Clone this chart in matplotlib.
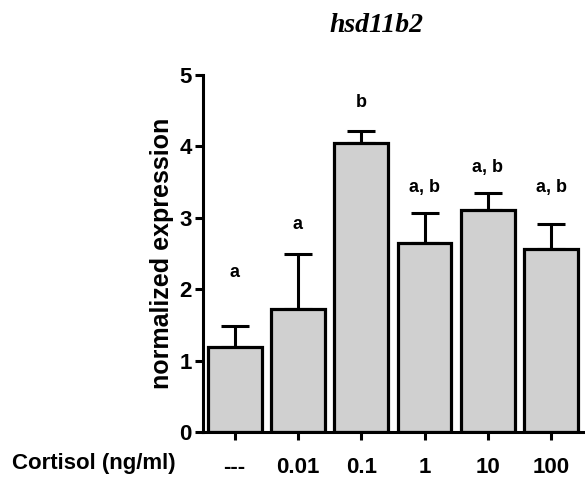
import matplotlib
matplotlib.use("Agg")
import matplotlib.pyplot as plt
import numpy as np

# data
doses = ["---", "0.01", "0.1", "1", "10", "100"]
means = [1.19, 1.72, 4.05, 2.65, 3.11, 2.56]
upper = [1.48, 2.50, 4.22, 3.07, 3.35, 2.91]
letters = ["a", "a", "b", "a, b", "a, b", "a, b"]
letter_y = [2.24, 2.91, 4.61, 3.43, 3.70, 3.43]

plt.rcParams['font.family'] = ['Liberation Sans', 'DejaVu Sans']

fig = plt.figure(figsize=(5.85, 4.78), dpi=100)
ax = fig.add_axes([0.347, 0.0962, 0.66, 0.7469])

x = np.arange(len(doses))
err = np.array(upper) - np.array(means)
ax.errorbar(x, means, yerr=[np.zeros(len(x)), err], fmt='none',
            ecolor='black', elinewidth=2.2, capsize=10, capthick=2.2, zorder=1)
ax.bar(x, means, width=0.85, color='#d0d0d0', edgecolor='black',
       linewidth=2.3, zorder=2)

for xi, lab, ly in zip(x, letters, letter_y):
    ax.text(xi, ly, lab, ha='center', va='center', fontsize=13,
            fontweight='bold')

ax.set_xlim(-0.5, 5.6)
ax.set_ylim(0, 5)
ax.set_yticks([0, 1, 2, 3, 4, 5])
ax.set_xticks(x)
ax.set_xticklabels(doses)
ax.spines['top'].set_visible(False)
ax.spines['right'].set_visible(False)
ax.spines['left'].set_linewidth(2.2)
ax.spines['bottom'].set_linewidth(2.2)
ax.tick_params(axis='both', width=2.2, length=6, labelsize=16)
ax.tick_params(axis='x', pad=12)
ax.tick_params(axis='y', pad=2)
for t in ax.get_xticklabels() + ax.get_yticklabels():
    t.set_fontweight('bold')

ax.set_ylabel("normalized expression", fontsize=18, fontweight='bold',
              labelpad=4)
fig.text(0.0205, 0.031, "Cortisol (ng/ml)", fontsize=16, fontweight='bold',
         ha='left', va='center')
fig.text(0.644, 0.946, "hsd11b2", fontsize=20, fontweight='bold',
         fontstyle='italic', family=['Liberation Serif'], ha='center',
         va='center')

fig.savefig("out.png", dpi=100)
